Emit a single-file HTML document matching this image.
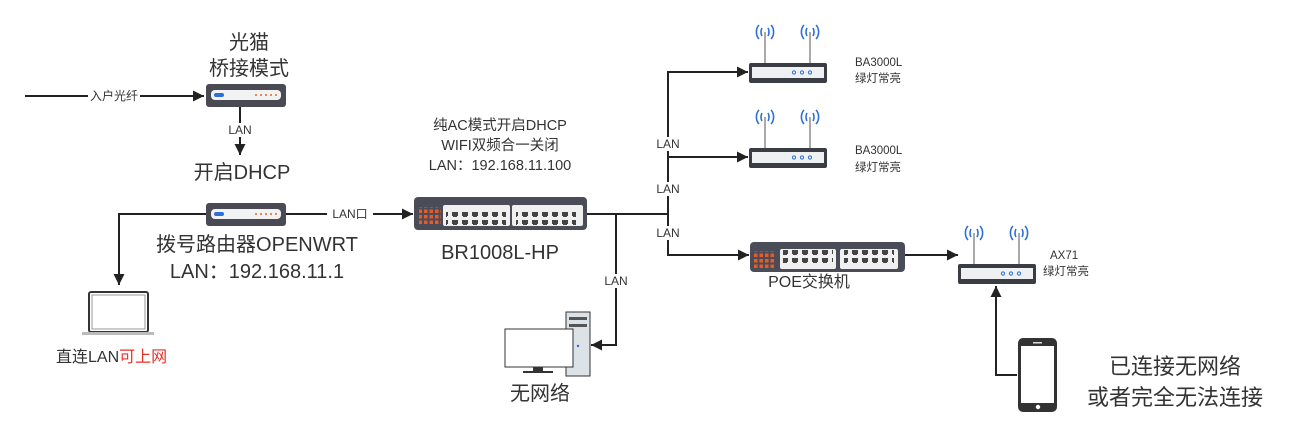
<!DOCTYPE html>
<html><head><meta charset="utf-8"><style>
body{margin:0;background:#fff;}
svg{display:block;font-family:"Liberation Sans","Noto Sans CJK SC",sans-serif;}
</style></head><body>
<svg width="1306" height="438" viewBox="0 0 1306 438" xmlns="http://www.w3.org/2000/svg">
<defs>
<marker id="a" viewBox="0 0 10 10" refX="10" refY="5" markerWidth="11" markerHeight="11" markerUnits="userSpaceOnUse" orient="auto"><path d="M0,0L10,5L0,10z" fill="#222"/></marker>
<g id="modem">
<rect x="0" y="0" width="80" height="23" rx="3" fill="#4a4a55"/>
<rect x="5" y="6" width="70" height="10" rx="4" fill="#f2f2f2"/>
<rect x="8" y="9" width="10" height="4" rx="2" fill="#2d6fd6"/>
<g fill="#e06a2a"><circle cx="50" cy="11" r="1"/><circle cx="55" cy="11" r="1"/><circle cx="60" cy="11" r="1"/><circle cx="65" cy="11" r="1"/><circle cx="70" cy="11" r="1"/></g>
</g>
<g id="ap">
<line x1="16" y1="-31" x2="16" y2="0" stroke="#aaa" stroke-width="2"/>
<line x1="61" y1="-31" x2="61" y2="0" stroke="#aaa" stroke-width="2"/>
<g fill="none" stroke="#2d6fd6" stroke-width="1.6">
<path d="M10,-38a7,9 0 0 0 0,14M22,-38a7,9 0 0 1 0,14M13,-35a4,6 0 0 0 0,8M19,-35a4,6 0 0 1 0,8"/>
<path d="M55,-38a7,9 0 0 0 0,14M67,-38a7,9 0 0 1 0,14M58,-35a4,6 0 0 0 0,8M64,-35a4,6 0 0 1 0,8"/>
</g>
<rect x="0" y="0" width="78" height="20" rx="2" fill="#3a3d44"/>
<rect x="3" y="4" width="72" height="11" fill="#eef0f2"/>
<g fill="none" stroke="#2d6fd6" stroke-width="1"><circle cx="45" cy="9.5" r="1.6"/><circle cx="53" cy="9.5" r="1.6"/><circle cx="61" cy="9.5" r="1.6"/></g>
</g>
<pattern id="ports" x="0" y="0" width="10" height="19" patternUnits="userSpaceOnUse">
<path d="M2,3h6v4h-1v1h-4v-1h-1z M2,11h6v4h-1v1h-4v-1h-1z" fill="#444"/>
</pattern>
<pattern id="leds" x="0" y="0" width="5.5" height="5.5" patternUnits="userSpaceOnUse"><rect x="0.5" y="0.5" width="3.5" height="3.5" fill="#e85a2a"/></pattern>
</defs>

<g stroke="#222" stroke-width="2" fill="none">
<line x1="25" y1="96" x2="204" y2="96" marker-end="url(#a)"/>
<line x1="240" y1="107" x2="240" y2="155" marker-end="url(#a)"/>
<line x1="286" y1="214" x2="413" y2="214" marker-end="url(#a)"/>
<polyline points="206,214 119,214 119,285" marker-end="url(#a)"/>
<line x1="587" y1="214" x2="668" y2="214"/>
<polyline points="616,214 616,345 591,345" marker-end="url(#a)"/>
<polyline points="668,255 668,72 748,72" marker-end="url(#a)"/>
<line x1="668" y1="157" x2="748" y2="157" marker-end="url(#a)"/>
<polyline points="668,214 668,255 749,255" marker-end="url(#a)"/>
<line x1="905" y1="255" x2="958" y2="255" marker-end="url(#a)"/>
<polyline points="1017,375 996,375 996,286" marker-end="url(#a)"/>
</g>

<g font-size="12" fill="#333" text-anchor="middle">
<rect x="88" y="88" width="52" height="15" fill="#fff"/><text x="114" y="100">入户光纤</text>
<rect x="228" y="123" width="24" height="14" fill="#fff"/><text x="240" y="134">LAN</text>
<rect x="327" y="206" width="46" height="15" fill="#fff"/><text x="350" y="218">LAN口</text>
<rect x="603" y="274" width="26" height="14" fill="#fff"/><text x="616" y="285">LAN</text>
<rect x="655" y="137" width="26" height="14" fill="#fff"/><text x="668" y="148">LAN</text>
<rect x="655" y="182" width="26" height="14" fill="#fff"/><text x="668" y="193">LAN</text>
<rect x="655" y="226" width="26" height="14" fill="#fff"/><text x="668" y="237">LAN</text>
</g>

<use href="#modem" x="206" y="84"/>
<use href="#modem" x="206" y="203"/>

<!-- BR1008L switch -->
<rect x="414" y="197" width="173" height="33" rx="4" fill="#4a4d57"/>
<rect x="419" y="207" width="22" height="19" fill="url(#leds)"/>
<rect x="443" y="205" width="67" height="21" rx="2" fill="#f0f0f0"/><rect x="446" y="206" width="60" height="19" fill="url(#ports)"/>
<rect x="512" y="205" width="71" height="21" rx="2" fill="#f0f0f0"/><rect x="516" y="206" width="60" height="19" fill="url(#ports)"/>

<!-- POE switch -->
<rect x="750" y="242" width="155" height="30" rx="4" fill="#4a4d57"/>
<rect x="754" y="251" width="20" height="18" fill="url(#leds)"/>
<rect x="780" y="249" width="56" height="20" rx="2" fill="#f0f0f0"/><rect x="783" y="250" width="50" height="19" fill="url(#ports)"/>
<rect x="840" y="249" width="58" height="20" rx="2" fill="#f0f0f0"/><rect x="844" y="250" width="50" height="19" fill="url(#ports)"/>

<use href="#ap" x="749" y="63"/>
<use href="#ap" x="749" y="148"/>
<use href="#ap" x="958" y="264"/>

<!-- laptop -->
<rect x="89" y="292" width="59" height="40" rx="2" fill="#fff" stroke="#333" stroke-width="2"/>
<rect x="92" y="295" width="53" height="34" fill="#fff" stroke="#999" stroke-width="1"/>
<rect x="82" y="332" width="72" height="3" fill="#bbb"/>

<!-- computer -->
<rect x="566" y="312" width="24" height="64" fill="#dde2e6" stroke="#333" stroke-width="1"/>
<rect x="569" y="317" width="18" height="3" fill="#555"/><rect x="569" y="324" width="18" height="3" fill="#555"/>
<circle cx="578" cy="346" r="1.2" fill="#2d6fd6"/>
<rect x="505" y="329" width="68" height="38" fill="#fff" stroke="#333" stroke-width="1"/>
<rect x="533" y="367" width="10" height="4" fill="#333"/><rect x="523" y="371" width="30" height="2" fill="#333"/>

<!-- phone -->
<rect x="1018" y="338" width="39" height="74" rx="5" fill="#333"/>
<rect x="1021" y="346" width="33" height="57" fill="#fff"/>
<rect x="1033" y="342" width="9" height="1.5" fill="#ddd"/>
<circle cx="1038" cy="407" r="2.2" fill="#fff"/>

<g fill="#333" text-anchor="middle">
<text x="249" y="49" font-size="20">光猫</text>
<text x="249" y="75" font-size="20">桥接模式</text>
<text x="242" y="179" font-size="20">开启DHCP</text>
<text x="257" y="251" font-size="20">拨号路由器OPENWRT</text>
<text x="257" y="278" font-size="20">LAN：192.168.11.1</text>
<text x="500" y="130" font-size="14.5">纯AC模式开启DHCP</text>
<text x="500" y="150" font-size="14.5">WIFI双频合一关闭</text>
<text x="500" y="170" font-size="14.5">LAN：192.168.11.100</text>
<text x="500" y="259" font-size="20">BR1008L-HP</text>
<text x="540" y="400" font-size="20">无网络</text>
<text x="809" y="287" font-size="16">POE交换机</text>
<text x="1175" y="374" font-size="22">已连接无网络</text>
<text x="1175" y="405" font-size="22">或者完全无法连接</text>
</g>
<text x="56" y="362" font-size="16" fill="#333">直连LAN<tspan fill="#e8302a">可上网</tspan></text>
<g font-size="11.5" fill="#333">
<text x="855" y="66">BA3000L</text><text x="855" y="82">绿灯常亮</text>
<text x="855" y="154">BA3000L</text><text x="855" y="171">绿灯常亮</text>
<text x="1050" y="259">AX71</text><text x="1043" y="275">绿灯常亮</text>
</g>
</svg>
</body></html>
